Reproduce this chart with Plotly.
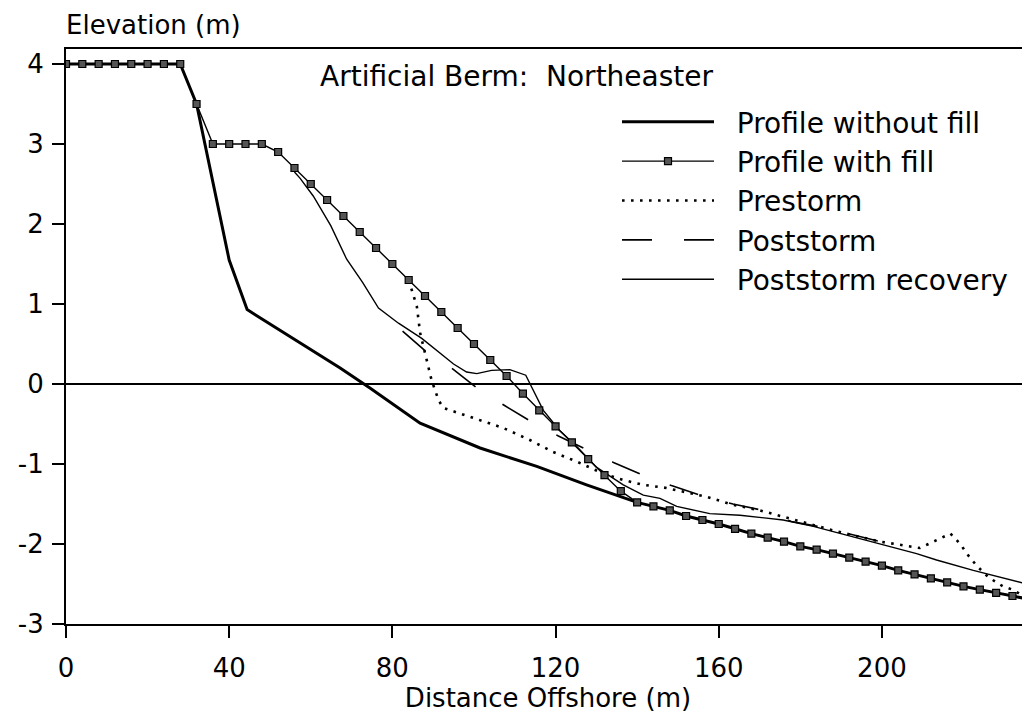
import plotly.graph_objects as go

# ---- data ----
fill_x = [0, 4, 8, 12, 16, 20, 24, 28, 32, 36, 40, 44, 48, 52, 56, 60, 64, 68, 72, 76,
          80, 84, 88, 92, 96, 100, 104, 108, 112, 116, 120, 124, 128, 132, 136, 140, 144,
          148, 152, 156, 160, 164, 168, 172, 176, 180, 184, 188, 192, 196, 200, 204, 208,
          212, 216, 220, 224, 228, 232, 236]
fill_y = [4, 4, 4, 4, 4, 4, 4, 4, 3.5, 3.0, 3.0, 3.0, 3.0, 2.9, 2.7, 2.5, 2.3, 2.1, 1.9, 1.7,
          1.5, 1.3, 1.1, 0.9, 0.7, 0.5, 0.3, 0.1, -0.12, -0.33, -0.53, -0.73, -0.94, -1.14, -1.34, -1.48, -1.53,
          -1.58, -1.65, -1.70, -1.75, -1.81, -1.87, -1.92, -1.97, -2.03, -2.07, -2.12, -2.17, -2.22, -2.27, -2.33, -2.38,
          -2.43, -2.48, -2.53, -2.57, -2.61, -2.65, -2.69]

nofill_x = [0, 28, 32, 40, 44.4, 57.4, 67.2, 74.5, 86.8, 101.5, 115.4, 127.6, 135.8, 140, 144,
            148, 152, 156, 160, 164, 168, 172, 176, 180, 184, 188, 192, 196, 200, 204, 208,
            212, 216, 220, 224, 228, 232, 236]
nofill_y = [4, 4, 3.5, 1.55, 0.93, 0.52, 0.2, -0.05, -0.49, -0.80, -1.03, -1.26, -1.41, -1.48, -1.53,
            -1.58, -1.65, -1.70, -1.75, -1.81, -1.87, -1.92, -1.97, -2.03, -2.07, -2.12, -2.17, -2.22, -2.27, -2.33, -2.38,
            -2.43, -2.48, -2.53, -2.57, -2.61, -2.65, -2.69]

pre_x = [84, 86, 86.8, 88.4, 89.6, 91.3, 92.5, 99, 107.2, 113.7, 119.4, 125.2, 131.7, 136.6, 141.5,
         147.2, 157, 163.5, 170.1, 176.6, 188, 199.5, 203.4, 207.3, 209.3, 211, 213, 214.9, 216.8,
         218.3, 219.5, 220.8, 222, 223.2, 226.2, 228.1, 229.7, 232, 236]
pre_y = [1.3, 0.97, 0.64, 0.3, 0.05, -0.2, -0.30, -0.41, -0.55, -0.70, -0.85, -0.97, -1.12, -1.2, -1.26,
         -1.30, -1.41, -1.51, -1.58, -1.67, -1.83, -1.97, -2.0, -2.03, -2.05, -2.01, -1.96, -1.92, -1.87,
         -1.95, -2.02, -2.12, -2.2, -2.27, -2.42, -2.48, -2.53, -2.57, -2.69]

post_x = [82.5, 88.4, 94.5, 100.7, 107.2, 113.7, 120.7, 127.5, 134.2, 141.5, 148.4, 155.4, 163.5,
          170.9, 177.8, 186.4, 193, 199.5, 205]
post_y = [0.66, 0.40, 0.2, -0.05, -0.26, -0.46, -0.65, -0.82, -0.98, -1.14, -1.27, -1.39, -1.5,
          -1.58, -1.72, -1.80, -1.89, -1.97, -2.03]

rec_x = [56, 57.4, 60.6, 64.9, 68.8, 72.7, 76.6, 81.5, 87.2, 95, 98.2, 100.7, 104.3, 108.8, 112.7,
         113.9, 117, 121, 125.2, 130, 136.6, 141.5, 145.6, 149.7, 157.8, 165.2, 175.8, 183.2, 193,
         200.3, 208.5, 213.4, 222.4, 236.3]
rec_y = [2.65, 2.57, 2.35, 1.98, 1.56, 1.27, 0.95, 0.76, 0.57, 0.25, 0.15, 0.13, 0.17, 0.18, 0.11,
         -0.01, -0.33, -0.58, -0.78, -1.04, -1.26, -1.39, -1.43, -1.53, -1.62, -1.64, -1.70, -1.78, -1.91,
         -2.01, -2.12, -2.2, -2.33, -2.51]

x_ticks = [0, 40, 80, 120, 160, 200]
x_tick_text = ["0", "40", "80", "120", "160", "200"]
y_ticks = [-3, -2, -1, 0, 1, 2, 3, 4]
y_tick_text = ["-3", "-2", "-1", "0", "1", "2", "3", "4"]

FONT = "DejaVu Sans"
NB = "\u00a0\u00a0"

# page has an 8px body margin: figure is placed at (8, 8) in the window
W, H = 1022, 709
ML, MT, MB = 58, 41, 93
PW = W - ML          # plot width in px
PH = H - MT - MB     # plot height in px


def px_x(window_px):
    return (window_px - 8 - ML) / PW


def px_y(window_py):
    return (H - MB - (window_py - 8)) / PH


fig = go.Figure()

fig.add_trace(go.Scatter(x=rec_x, y=rec_y, mode="lines", name=NB + "Poststorm recovery",
                         line=dict(color="black", width=1.4), legendrank=5))
fig.add_trace(go.Scatter(x=post_x, y=post_y, mode="lines", name=NB + "Poststorm",
                         line=dict(color="black", width=1.6, dash="30px,32px"), legendrank=4))
fig.add_trace(go.Scatter(x=pre_x, y=pre_y, mode="lines", name=NB + "Prestorm",
                         line=dict(color="black", width=2.6, dash="2.6px,6.4px"), legendrank=3))
fig.add_trace(go.Scatter(x=nofill_x, y=nofill_y, mode="lines", name=NB + "Profile without fill",
                         line=dict(color="black", width=3), legendrank=1))
fig.add_trace(go.Scatter(x=fill_x, y=fill_y, mode="lines+markers", name=NB + "Profile with fill",
                         line=dict(color="black", width=1.4),
                         marker=dict(symbol="square", size=7, color="#555555",
                                     line=dict(color="black", width=1.2)),
                         legendrank=2))

fig.add_annotation(text="Artificial Berm:\u00a0 Northeaster", xref="paper", yref="paper",
                   x=px_x(318), y=px_y(76), xanchor="left", yanchor="middle",
                   showarrow=False, font=dict(family=FONT, size=28, color="black"))
fig.add_annotation(text="Elevation (m)", xref="paper", yref="paper",
                   x=px_x(64), y=px_y(25), xanchor="left", yanchor="middle",
                   showarrow=False, font=dict(family=FONT, size=26, color="black"))

fig.update_layout(
    width=W, height=H,
    margin=dict(l=ML, r=0, t=MT, b=MB, autoexpand=False),
    paper_bgcolor="white", plot_bgcolor="white",
    font=dict(family=FONT, size=26, color="black"),
    showlegend=True,
    legend=dict(x=px_x(617), y=px_y(97), xanchor="left", yanchor="top",
                bgcolor="rgba(0,0,0,0)", borderwidth=0, itemwidth=92,
                font=dict(family=FONT, size=28, color="black"), tracegroupgap=0),
    xaxis=dict(range=[0, 236.3], tickvals=x_ticks, ticktext=x_tick_text,
               ticks="outside", ticklen=12, tickwidth=1.5, tickcolor="black",
               showline=True, linewidth=2, linecolor="black", mirror=True,
               showgrid=False, zeroline=False, ticklabelstandoff=8,
               title=dict(text="Distance Offshore (m)", standoff=6,
                          font=dict(family=FONT, size=26)),
               automargin=False),
    yaxis=dict(range=[-3, 4.1875], tickvals=y_ticks, ticktext=y_tick_text,
               ticks="outside", ticklen=12, tickwidth=1.5, tickcolor="black",
               showline=True, linewidth=2, linecolor="black", mirror=False,
               showgrid=False, zeroline=True, zerolinecolor="black", zerolinewidth=2,
               ticklabelstandoff=3, automargin=False),
)

fig.write_html("out.html")
